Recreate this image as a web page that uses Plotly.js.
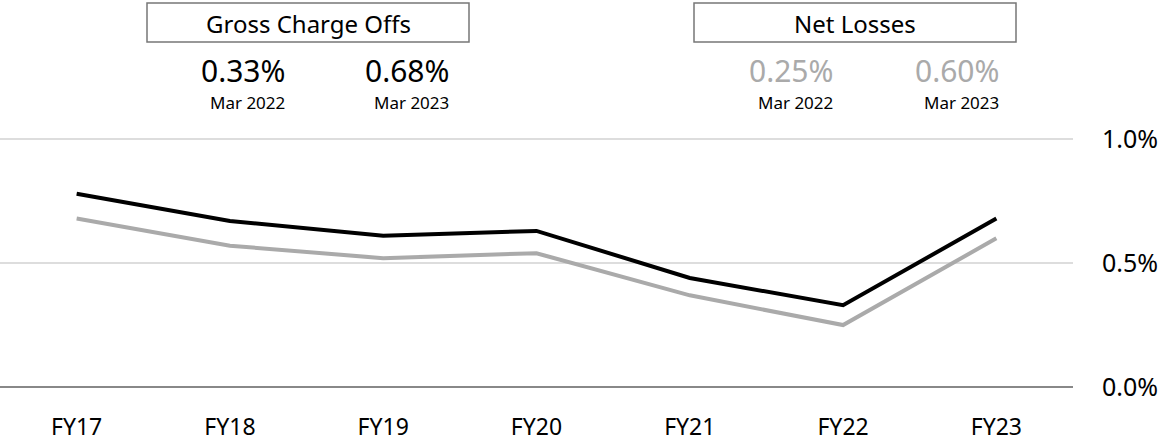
<!DOCTYPE html>
<html>
<head>
<meta charset="utf-8">
<script src="https://cdn.plot.ly/plotly-3.0.1.min.js"></script>
<style>
  html, body { margin: 0; padding: 0; background: #fff; }
  #chart { width: 1162px; height: 446px; }
</style>
</head>
<body>
<div id="chart"></div>
<script>
// ---- data ----
const categories = ["FY17", "FY18", "FY19", "FY20", "FY21", "FY22", "FY23"];
const grossChargeOffs = [0.78, 0.67, 0.61, 0.63, 0.44, 0.33, 0.68];
const netLosses = [0.68, 0.57, 0.52, 0.54, 0.37, 0.25, 0.60];
const yTicks = [0, 0.5, 1.0];
const yTickLabels = ["0.0%", "0.5%", "1.0%"];
const boxTitles = ["Gross Charge Offs", "Net Losses"];
const grossHeadline = ["0.33%", "0.68%"];
const netHeadline = ["0.25%", "0.60%"];
const headlineDates = ["Mar 2022", "Mar 2023"];

// ---- layout geometry ----
const W = 1162, H = 446;
const M = { l: 0, r: 89, t: 102, b: 54 };
const yRange = [-0.02, 1.15];
const pw = W - M.l - M.r, ph = H - M.t - M.b;
const px = p => (p - M.l) / pw;               // pixel x -> paper x
const py = p => (H - M.b - p) / ph;           // pixel y -> paper y

const FONT = "'Noto Sans', 'Open Sans', sans-serif";
const BLACK = "#000000", GREY = "#aaaaaa";

const traces = [
  { x: categories, y: netLosses, type: "scatter", mode: "lines",
    line: { color: GREY, width: 4 }, hoverinfo: "skip", name: "Net Losses" },
  { x: categories, y: grossChargeOffs, type: "scatter", mode: "lines",
    line: { color: BLACK, width: 4 }, hoverinfo: "skip", name: "Gross Charge Offs" }
];

const boxes = [[147, 469], [694, 1016]];
const shapes = boxes.map(b => ({
  type: "rect", xref: "paper", yref: "paper",
  x0: px(b[0]), x1: px(b[1]), y0: py(42), y1: py(3),
  line: { color: "#777", width: 1.5 }, fillcolor: "rgba(0,0,0,0)"
}));

const annotations = [];
boxTitles.forEach((t, i) => {
  annotations.push({ xref: "paper", yref: "paper", x: px((boxes[i][0] + boxes[i][1]) / 2), y: py(24),
    text: t, showarrow: false, xanchor: "center", yanchor: "middle",
    font: { family: FONT, size: 24, color: "#000" } });
});
const valueRight = [[287, 451], [835, 1001]];
[grossHeadline, netHeadline].forEach((vals, g) => {
  vals.forEach((v, j) => {
    annotations.push({ xref: "paper", yref: "paper", x: px(valueRight[g][j]), y: py(70),
      text: v, showarrow: false, xanchor: "right", yanchor: "middle",
      font: { family: FONT, size: 30, color: g === 0 ? BLACK : GREY } });
    annotations.push({ xref: "paper", yref: "paper", x: px(valueRight[g][j]), y: py(102),
      text: headlineDates[j], showarrow: false, xanchor: "right", yanchor: "middle",
      font: { family: FONT, size: 17, color: "#000" } });
  });
});

const layout = {
  width: W, height: H,
  margin: M,
  paper_bgcolor: "#fff", plot_bgcolor: "#fff",
  showlegend: false,
  xaxis: {
    type: "category", range: [-0.5, 6.5], showgrid: false, zeroline: false, showline: false,
    ticks: "", tickfont: { family: FONT, size: 23, color: "#000" }, ticklabelstandoff: 19,
    fixedrange: true
  },
  yaxis: {
    side: "right", range: yRange, tickmode: "array", tickvals: yTicks, ticktext: yTickLabels,
    showgrid: true, gridcolor: "#dddddd", gridwidth: 2,
    zeroline: true, zerolinecolor: "#888888", zerolinewidth: 2,
    showline: false, ticks: "", ticklabelstandoff: 28,
    tickfont: { family: FONT, size: 25, color: "#000" }, fixedrange: true
  },
  shapes: shapes,
  annotations: annotations
};

Plotly.newPlot("chart", traces, layout, { displayModeBar: false, staticPlot: true });
</script>
</body>
</html>
